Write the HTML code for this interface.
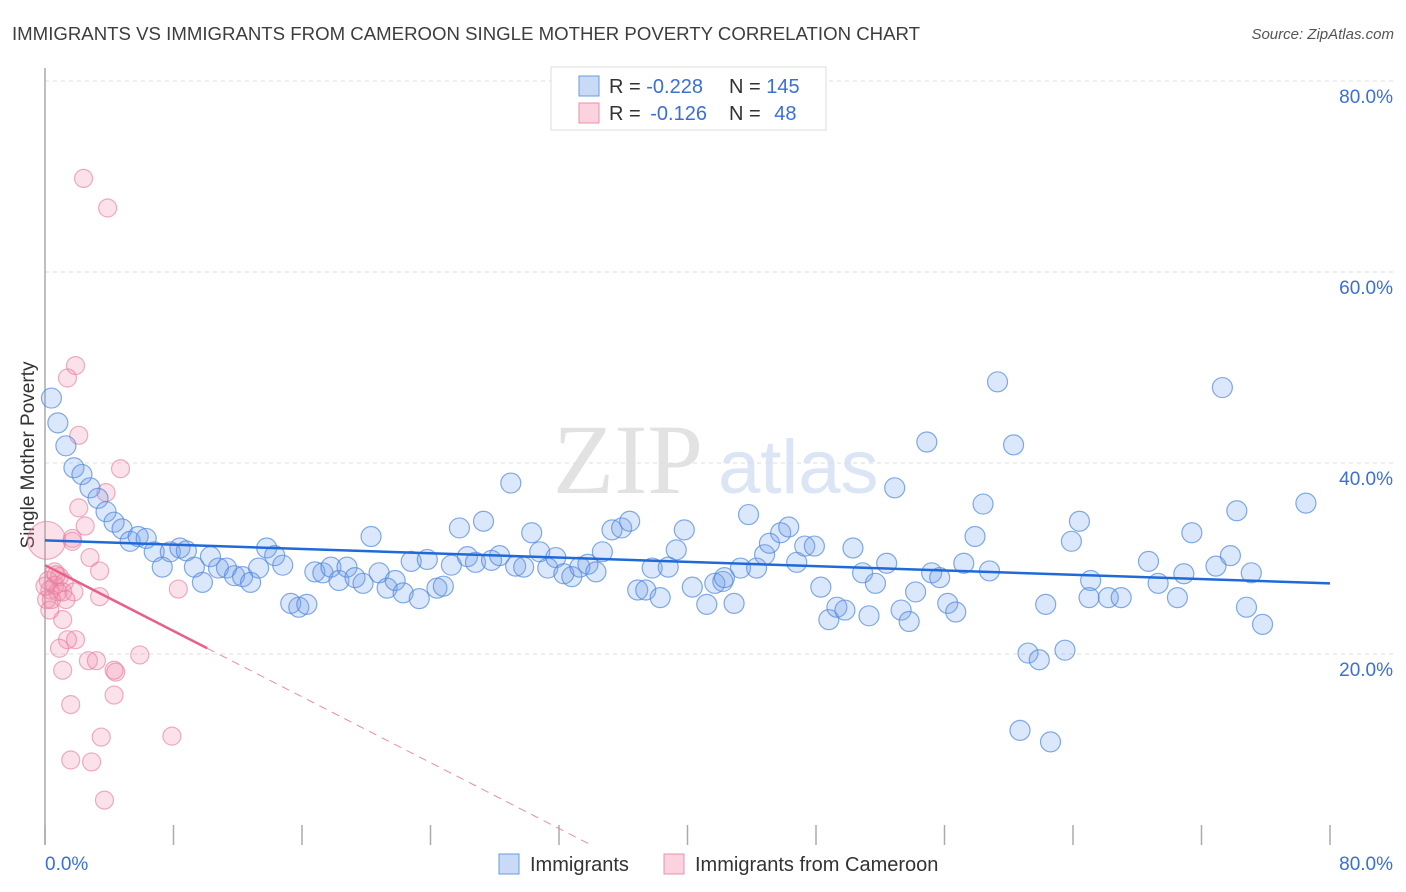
<!DOCTYPE html>
<html><head><meta charset="utf-8"><style>
body{margin:0;background:#fff;font-family:"Liberation Sans",sans-serif;overflow:hidden}
svg{display:block}
</style></head><body>
<svg width="1406" height="892" viewBox="0 0 1406 892" xmlns="http://www.w3.org/2000/svg">
<text x="12" y="40" font-size="18" fill="#3d3d3d" textLength="908" lengthAdjust="spacingAndGlyphs">IMMIGRANTS VS IMMIGRANTS FROM CAMEROON SINGLE MOTHER POVERTY CORRELATION CHART</text>
<text x="1394" y="39" font-size="15" font-style="italic" fill="#555" text-anchor="end">Source: ZipAtlas.com</text>
<g>
<text x="553" y="493" font-family="Liberation Serif,serif" font-size="100" fill="#e2e2e2">ZIP</text>
<text x="718" y="493" font-size="76" fill="#dbe5f5">atlas</text>
</g>
<g id="grid"></g>
<g id="yticks"></g>
<g id="xticks"></g>
<line x1="45" y1="68" x2="45" y2="845" stroke="#aaa" stroke-width="1.5"/>
<text transform="translate(34,455) rotate(-90)" font-size="19" fill="#333" text-anchor="middle">Single Mother Poverty</text>
<g id="pts"></g>
<g id="trend"></g>
<g>
<rect x="551" y="67" width="275" height="63" fill="#fff" stroke="#ddd"/>
<rect x="579" y="76" width="20" height="20" fill="rgba(100,150,230,0.35)" stroke="#6a9ae0"/>
<rect x="579" y="103" width="20" height="20" fill="rgba(240,130,160,0.35)" stroke="#ea92ae"/>
<text x="609" y="93" font-size="20" fill="#333">R = <tspan fill="#3a6fd8">-0.228</tspan></text>
<text x="729" y="93" font-size="20" fill="#333">N = <tspan fill="#3a6fd8">145</tspan></text>
<text x="609" y="120" font-size="20" fill="#333">R = <tspan fill="#3a6fd8" dx="4">-0.126</tspan></text>
<text x="729" y="120" font-size="20" fill="#333">N = <tspan fill="#3a6fd8" dx="8">48</tspan></text>
</g>
<g>
<rect x="499" y="854" width="20" height="20" fill="rgba(100,150,230,0.35)" stroke="#6a9ae0"/>
<text x="530" y="871" font-size="20" fill="#333">Immigrants</text>
<rect x="664" y="854" width="20" height="20" fill="rgba(240,130,160,0.35)" stroke="#ea92ae"/>
<text x="695" y="871" font-size="20" fill="#333">Immigrants from Cameroon</text>
</g>
</svg>
<script>
const yTickValues=[20,40,60,80];
const yTickLabels=["20.0%","40.0%","60.0%","80.0%"];
const xTickValues=[0,8,16,24,32,40,48,56,64,72,80];
const xEndLabels=["0.0%","80.0%"];
const immX=[0.4,0.8,1.3,1.8,2.3,2.8,3.3,3.8,4.3,4.8,5.3,5.8,6.3,6.8,7.3,7.8,8.4,8.8,9.3,9.8,10.3,10.8,11.3,11.8,12.3,12.8,13.3,13.8,14.3,14.8,15.3,15.8,16.3,16.8,17.3,17.8,18.3,18.8,19.3,19.8,20.3,20.8,21.3,21.8,22.3,22.8,23.3,23.8,24.4,24.8,25.3,25.8,26.3,26.8,27.3,27.8,28.3,29.0,29.3,29.8,30.3,30.8,31.3,31.8,32.3,32.8,33.3,33.8,34.3,34.7,35.3,35.9,36.4,36.9,37.4,37.8,38.3,38.8,39.3,39.8,40.3,41.2,41.7,42.2,42.3,42.9,43.3,43.8,44.3,44.8,45.1,45.8,46.3,46.8,47.3,47.9,48.3,48.8,49.3,49.8,50.3,50.9,51.3,51.7,52.4,52.9,53.3,53.8,54.2,54.9,55.2,55.7,56.2,56.7,57.2,57.9,58.4,58.8,59.3,60.3,60.7,61.2,61.9,62.3,62.6,63.5,63.9,64.4,65.1,65.0,66.2,67.0,68.7,69.3,70.5,70.9,71.4,72.9,73.3,73.8,74.2,74.8,75.1,75.8,78.5];
const immY=[46.8,44.2,41.8,39.5,38.8,37.4,36.3,34.9,33.8,33.1,31.8,32.3,32.1,30.7,29.1,30.7,31.1,30.8,29.1,27.5,30.2,29.0,29.0,28.2,28.1,27.5,29.0,31.1,30.3,29.3,25.3,24.9,25.2,28.6,28.5,29.1,27.7,29.1,28.0,27.4,32.3,28.5,26.9,27.7,26.4,29.7,25.8,29.9,26.9,27.1,29.3,33.2,30.2,29.6,33.9,29.8,30.3,37.9,29.2,29.1,32.7,30.7,29.0,30.1,28.4,28.1,29.1,29.4,28.6,30.7,33.0,33.2,33.9,26.7,26.7,29.0,25.9,29.1,30.9,33.0,27.0,25.2,27.4,27.6,28.0,25.3,29.0,34.6,29.0,30.4,31.6,32.7,33.3,29.6,31.3,31.3,27.0,23.6,24.9,24.6,31.1,28.5,24.0,27.4,29.5,37.4,24.6,23.4,26.5,42.2,28.5,28.0,25.3,24.4,29.5,32.3,35.7,28.7,48.5,41.9,12.0,20.1,19.4,25.2,10.8,20.4,31.8,33.9,27.7,25.9,25.9,25.9,29.7,27.4,25.9,28.4,32.7,29.2,47.9,30.3,35.0,24.9,28.5,23.1,35.8];
const camX=[2.4,3.9,1.9,1.4,2.1,4.7,3.8,2.1,2.5,1.7,1.7,0.1,2.8,3.4,0.6,0.9,1.2,0.6,0.3,0.8,0.1,1.1,1.8,3.4,8.3,1.1,1.9,1.4,0.9,2.7,3.2,4.4,4.3,1.1,4.3,1.6,5.9,3.5,7.9,1.6,2.9,3.7,0.2,0.4,1.3,0.7,0.3,0.0];
const camY=[69.8,66.7,50.2,48.9,42.9,39.4,36.9,35.3,33.4,32.1,31.8,31.9,30.1,28.7,28.6,28.1,27.5,27.2,26.7,26.5,25.7,26.5,26.5,26.0,26.8,23.6,21.5,21.5,20.6,19.3,19.3,18.1,18.3,18.3,15.7,14.7,19.9,11.3,11.4,8.9,8.7,4.7,27.7,25.7,25.7,28.3,24.6,27.1];
const camSize=[1,1,1,1,1,1,1,1,1,1,1,2.1,1,1,1,1,1,1,1,1,1,1,1,1,1,1,1,1,1,1,1,1,1,1,1,1,1,1,1,1,1,1,1,1,1,1,1,1];
const immTrend=[31.9,27.4];
const camTrend=[29.3,20.6,0];
const camTrendX=[0,10.1,34];
const NS="http://www.w3.org/2000/svg";
const X=v=>45+v/80*1285;
const Y=v=>845-v/20*191;
function mk(t,a,p){const e=document.createElementNS(NS,t);for(const k in a)e.setAttribute(k,a[k]);p.appendChild(e);return e;}
const grid=document.getElementById('grid'),yt=document.getElementById('yticks'),xt=document.getElementById('xticks');
yTickValues.forEach((v,i)=>{
 const l=mk('line',{x1:45,x2:1393,y1:Y(v),y2:Y(v),stroke:'#ddd','stroke-dasharray':'4,4'},grid);
 
 
 const t=mk('text',{x:1393,y:Y(v)+22,'font-size':19,fill:'#3a6fd8','text-anchor':'end'},yt);
 t.textContent=yTickLabels[i];
 
 
});
xTickValues.forEach(v=>{
 const l=mk('line',{x1:X(v),x2:X(v),y1:825,y2:845,stroke:'#aaa','stroke-width':1.5},xt);
 
 
});
const t0=mk('text',{x:45,y:870,'font-size':19,fill:'#3a6fd8'},xt);t0.textContent=xEndLabels[0];


const t1=mk('text',{x:1393,y:870,'font-size':19,fill:'#3a6fd8','text-anchor':'end'},xt);t1.textContent=xEndLabels[1];


const pts=document.getElementById('pts');
camX.forEach((v,i)=>{
 const c=mk('circle',{cx:X(v),cy:Y(camY[i]),r:9*camSize[i],fill:'rgba(240,140,170,0.25)',stroke:'rgba(230,120,155,0.6)','stroke-width':1.2},pts);
 
 
});
immX.forEach((v,i)=>{
 const c=mk('circle',{cx:X(v),cy:Y(immY[i]),r:10,fill:'rgba(110,160,235,0.25)',stroke:'rgba(80,135,220,0.7)','stroke-width':1.2},pts);
 
 
});
const tr=document.getElementById('trend');
const bl=mk('line',{x1:X(0),y1:Y(immTrend[0]),x2:X(80),y2:Y(immTrend[1]),stroke:'#1f6ad8','stroke-width':2.5},tr);


const pl=mk('line',{x1:X(camTrendX[0]),y1:Y(camTrend[0]),x2:X(camTrendX[1]),y2:Y(camTrend[1]),stroke:'#e8608a','stroke-width':2.5},tr);


const pd=mk('line',{x1:X(camTrendX[1]),y1:Y(camTrend[1]),x2:X(camTrendX[2]),y2:Y(camTrend[2]),stroke:'#ec8aa8','stroke-width':1,'stroke-dasharray':'8,6'},tr);


</script>
</body></html>
